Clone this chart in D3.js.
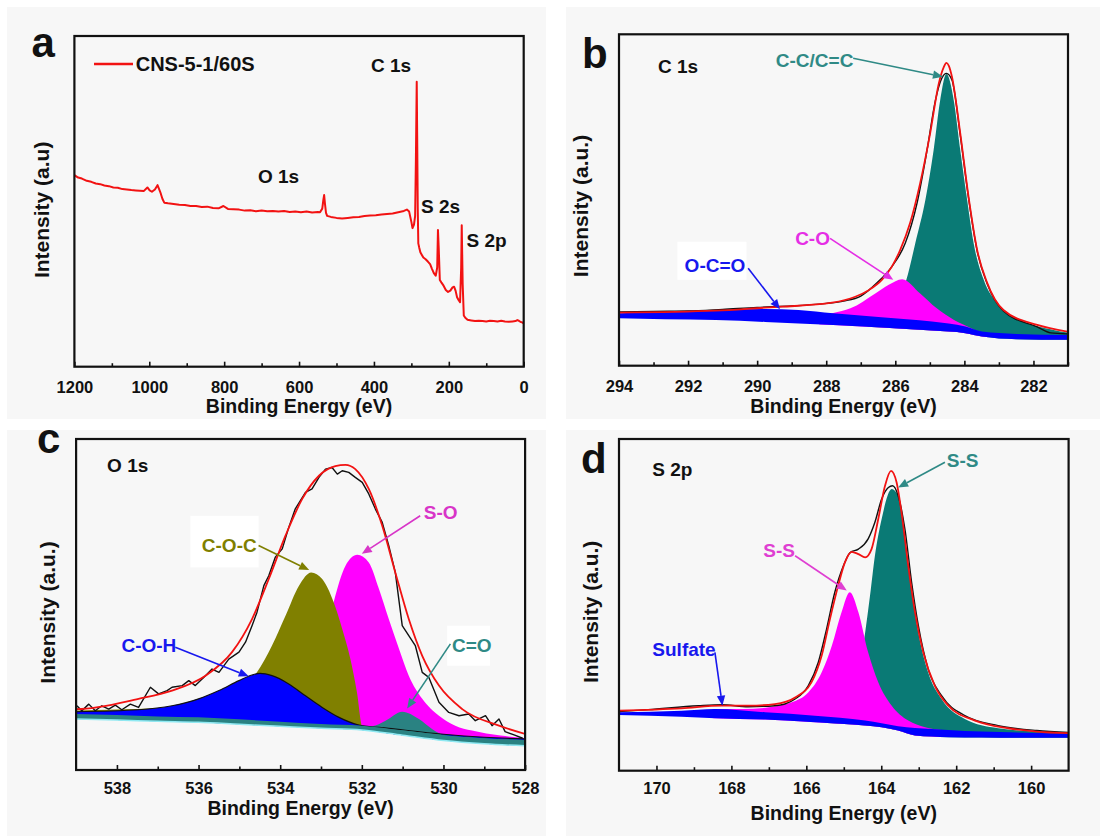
<!DOCTYPE html>
<html><head><meta charset="utf-8">
<script src="https://cdn.jsdelivr.net/npm/d3@7"></script>
<style>
body{margin:0;background:#ffffff}
text{font-family:"Liberation Sans",Arial,sans-serif;font-weight:bold}
</style>
</head><body>
<svg id="chart" width="1105" height="838"></svg>
<script>
// ---------------- DATA ----------------
// Panel a: survey spectrum (binding energy eV, intensity a.u. 0-100)
const surveyE = [1200,1190,1180,1167,1155,1143,1131,1120,1108,1096,1084,1072,1060,1048,1036,1025,1015,1005,999,993,985,978,974,970,965,960,950,935,920,905,890,875,860,845,830,815,802,790,775,760,745,730,715,700,685,670,655,640,625,610,595,580,565,550,544,538,535,533,531,528,525,515,500,485,470,455,440,425,410,395,380,365,350,335,320,312,306,300,297,293,290,288,285.7,284.5,283,281.5,279,276,272,268,262,256,250,245,240,235,231,229,227,224,220,214,208,202,196,190,186,182,178,174,170,167,165.5,163,160,156,150,140,130,120,110,100,90,80,70,60,50,40,30,22,17,13,8,4,0];
const surveyI = [57.9,57.2,56.9,56.2,55.9,55.4,55.2,54.8,54.6,54.2,54.1,53.7,53.6,53.4,53.3,53.2,53.1,54.2,53.3,52.9,53.6,54.9,53.8,52.6,50.8,49.6,49.4,49.2,49.0,48.9,48.6,48.6,48.3,48.4,48.0,47.9,48.6,47.7,47.6,47.5,47.2,47.3,47.0,47.2,47.0,47.1,46.9,47.1,46.8,46.9,46.7,46.9,46.6,46.8,46.7,47.8,50.5,51.9,49.5,46.5,45.6,45.3,45.0,44.8,45.0,45.2,45.3,45.6,45.7,45.8,46.0,46.2,46.3,46.7,47.1,47.5,46.9,43.8,41.9,43.0,45.5,62.0,86.2,70.0,48.0,37.3,36.0,34.6,33.8,33.0,32.5,31.8,31.0,29.6,28.3,27.5,30.0,41.3,36.0,26.2,25.5,24.5,23.2,22.6,23.0,24.0,24.2,23.0,21.0,20.2,19.5,30.0,42.8,25.0,15.5,14.8,14.2,14.0,13.8,13.9,13.8,13.7,13.9,13.8,13.7,13.9,13.7,13.6,13.7,13.8,14.1,13.9,13.5,13.4,13.1];
const surveyLegend = "CNS-5-1/60S";
const surveyPeakNames = ["C 1s","O 1s","S 2s","S 2p"];
const surveyPeakPos = [[407.8,89.2],[709.6,55.5],[274.3,46.5],[152.8,36.3]];

// Panel b: C 1s
const c1sRawE = [294,293,292,291,290,289,288,287.5,287,286.53,286.1,285.71,285.37,285.08,284.84,284.65,284.52,284.36,284.12,283.88,283.63,283.34,282.87,281.89,281.5,281.02];
const c1sRawI = [16.2,16.4,16.5,17.0,17.6,18.0,18.8,19.5,21.0,25.0,29.9,37.0,49.1,65.1,80.0,86.8,88.2,86.2,69.6,50.6,34.6,24.7,16.5,11.7,9.9,9.6];
const c1sFitE = [294,291.2,289.77,289.28,287.83,287.16,286.77,286.39,286.1,285.86,285.57,285.28,284.99,284.74,284.6,284.52,284.45,284.36,284.12,283.88,283.63,283.34,282.87,281.89,281.02];
const c1sFitI = [16.0,16.6,17.5,17.8,19.0,20.8,22.8,25.9,29.9,34.9,43.1,55.1,70.2,85.2,90.0,91.4,90.5,87.2,70.2,51.0,34.9,25.0,16.8,12.3,10.3];
const c1sCCE = [286.8,286.3,285.9,285.68,285.42,285.13,284.89,284.7,284.52,284.31,284.12,283.92,283.73,283.44,283.05,282.38,281.42,281.02];
const c1sCCI = [13.2,15.3,19.8,25.9,37.0,50.0,65.1,80.2,88.0,80.2,65.1,50.0,36.9,25.9,18.8,13.8,10.8,10.0];
const c1sCOE = [288.2,287.8,287.3,286.58,286.19,285.8,285.28,284.8,284.3,283.8,283.6,283.3];
const c1sCOI = [15.4,15.9,17.3,21.8,24.4,26.1,21.8,17.3,13.8,11.3,10.3,9.7];
const c1sBandE = [294,292.67,291.2,289.77,288.8,287.8,286.4,284.94,283.97,283.49,282.5,281];
const c1sBandTop = [15.8,16.3,16.8,17.1,16.8,15.8,14.6,13.3,11.8,10.3,9.6,9.3];
const c1sBandBottom = [14.3,14.0,13.8,13.2,12.7,12.3,11.5,10.6,9.8,8.8,8.0,7.8];

// Panel c: O 1s
const o1sRawE = [538.98,538.86,538.69,538.53,538.37,538.2,538.04,537.88,537.67,537.47,537.18,536.98,536.77,536.65,536.4,536.24,536.08,535.83,535.67,535.5,535.26,535.01,534.85,534.69,534.57,534.4,534.28,534.12,533.95,533.79,533.63,533.38,533.22,533.05,532.89,532.73,532.6,532.48,532.32,532.16,531.99,531.83,531.67,531.5,531.34,531.18,531.01,530.93,530.69,530.52,530.36,530.11,529.87,529.62,529.38,529.22,528.97,528.81,528.64,528.49,528.27,528.06];
const o1sRawI = [19.4,17.9,19.9,17.9,19.4,18.4,19.6,18.2,19.9,18.9,25.0,23.0,24.0,25.0,25.5,27.0,25.5,28.5,30.5,29.5,33.5,35.6,38.6,43.6,47.6,55.7,58.7,64.3,66.8,73.3,78.9,83.9,84.9,88.4,90.9,91.4,89.4,90.4,89.9,88.4,86.9,83.4,78.9,74.8,67.8,59.7,43.6,42.1,37.6,29.5,28.0,20.5,17.4,16.4,16.9,14.9,16.4,13.4,15.4,11.6,10.6,9.6];
const o1sFitE = [539,538.98,537.47,536.65,535.83,535.18,534.69,534.28,533.87,533.46,533.05,532.65,532.4,532.16,531.83,531.5,531.18,530.85,530.52,530.11,529.54,528.64,528.0];
const o1sFitI = [18.8,18.4,21.5,24.0,28.5,35.6,45.6,57.7,70.8,81.9,88.9,91.8,92.2,90.9,84.9,73.8,59.7,45.6,34.5,25.5,18.4,13.4,10.9];
const o1sSOE = [533.4,533.0,532.69,532.4,532.11,531.83,531.58,531.34,531.09,530.85,530.52,530.11,529.71,529.3,528.6,528.0];
const o1sSOI = [21.1,33.2,50.7,61.7,65.0,62.7,54.7,45.6,36.6,28.5,21.5,16.4,13.4,11.9,10.4,9.7];
const o1sCOCE = [539,537,536,535.5,535.0,534.8,534.57,534.2,533.87,533.54,533.24,532.97,532.69,532.48,532.28,532.12,531.99,531.7];
const o1sCOCI = [18.0,18.7,19.9,21.1,24.2,26.3,29.5,37.6,46.6,55.7,59.7,57.7,50.7,42.6,33.5,23.5,13.2,12.1];
const o1sCOHE = [539,537.47,536.65,536.0,535.5,535.01,534.69,534.49,534.2,533.79,533.38,532.97,532.56,532.07,531.34,530,529,528];
const o1sCOHI = [17.6,18.2,19.4,21.5,24.0,27.0,28.7,29.2,28.5,26.0,22.4,18.9,15.9,13.6,12.6,10.8,9.9,9.4];
const o1sCdOE = [532.3,531.75,531.42,531.01,530.6,530.28,529.95,529.3,528.5,528.0];
const o1sCdOI = [12.8,13.2,14.9,17.6,15.4,12.4,10.4,9.8,9.2,9.1];
const o1sBandE = [539,538,537,536,535,534,533,532,531,530,529,528];
const o1sBandTop = [16.9,16.6,16.2,15.9,15.3,14.6,13.9,13.4,12.0,10.5,9.6,9.1];
const o1sBandBottom = [15.4,15.1,14.7,14.4,13.8,13.2,12.6,12.1,10.5,8.9,7.9,7.3];

// Panel d: S 2p
const s2pRawE = [171,170.22,168.88,168.26,167.55,166.84,166.57,166.3,165.95,165.68,165.46,165.24,165.01,164.83,164.61,164.35,164.17,163.99,163.81,163.7,163.55,163.37,163.19,163.01,162.75,162.39,161.77,160.88,159.85,159];
const s2pRawI = [17.8,18.4,19.6,19.9,19.3,19.6,20.1,21.6,25.6,32.7,42.7,53.8,61.8,65.8,66.8,69.9,74.9,81.9,85.4,85.9,82.9,72.9,56.8,43.7,30.7,22.6,16.6,13.6,12.1,11.5];
const s2pFitE = [171,169.33,168.26,167.55,166.84,166.3,165.86,165.59,165.37,165.15,164.97,164.79,164.61,164.43,164.26,164.08,163.9,163.74,163.59,163.46,163.28,163.1,162.88,162.57,162.21,161.5,160.61,159.85,159];
const s2pFitI = [18.1,18.8,19.6,19.6,20.1,22.1,26.7,34.7,45.7,55.8,62.8,66.0,65.3,64.3,66.8,75.9,85.9,90.4,86.9,77.9,61.8,47.8,35.7,25.6,19.6,15.1,12.8,11.8,11.3];
const s2pSS1E = [165.5,165.0,164.8,164.6,164.43,164.3,164.17,163.99,163.72,163.55,163.37,163.19,163.01,162.75,162.39,161.77,160.88,159.85,159];
const s2pSS1I = [15.0,17.0,21.0,30.0,41.7,52.8,64.8,75.9,84.9,82.9,69.9,54.8,41.7,29.7,21.6,15.6,12.8,11.8,11.4];
const s2pSS2E = [168.5,167.7,167.0,166.39,165.95,165.59,165.32,165.06,164.84,164.61,164.35,164.08,163.72,163.28,162.83,162.4];
const s2pSS2I = [18.6,18.6,19.1,20.6,23.6,29.7,37.7,47.8,53.8,47.8,35.7,26.7,19.6,15.1,13.1,12.3];
const s2pBandE = [171,169.33,168.44,167.1,165.77,164.43,163.99,163.55,163.1,162.65,162.21,161.32,159.85,159];
const s2pBandTop = [17.6,18.1,18.6,17.6,16.6,15.1,14.3,13.4,12.9,12.6,12.3,11.8,11.4,11.2];
const s2pBandBottom = [16.8,16.3,15.8,15.4,14.6,13.6,13.1,12.1,10.6,10.3,10.1,10.0,9.9,9.9];

// Tick values
const ticksA = [1200,1000,800,600,400,200,0];
const minorA = [1100,900,700,500,300,100];
const ticksB = [294,292,290,288,286,284,282];
const minorB = [293,291,289,287,285,283,281];
const ticksC = [538,536,534,532,530,528];
const minorC = [537,535,533,531,529];
const ticksD = [170,168,166,164,162,160];
const minorD = [169,167,165,163,161];

// Annotations: [label, labelE, labelI, fromE, fromI, toE, toI, colour]
const annB = [["C-C/C=C",289.46,90.2,287.22,92.8,284.62,87.2,"#2f8a86"],
              ["C-O",288.9,36.4,287.89,38.4,286.06,25.9,"#e52ee5"],
              ["O-C=O",292.1,28.4,290.26,29.4,289.34,17.0,"#1818ee"]];
const annC = [["C-O-C",535.92,65.9,534.53,67.8,533.29,60.4,"#7f7f00"],
              ["S-O",530.48,75.8,530.57,76.8,532.0,65.3,"#d835c8"],
              ["C-O-H",537.89,35.6,536.57,37.1,534.77,28.3,"#1818ee"],
              ["C=O",529.79,35.6,529.83,38.1,530.89,18.6,"#2f8a86"]];
const annD = [["S-S",162.25,91.5,162.3,93.0,163.55,85.4,"#2f8a86"],
              ["S-S",167.15,64.3,166.3,64.8,164.92,54.3,"#df3fd2"],
              ["Sulfate",170.11,34.5,168.44,35.7,168.24,19.6,"#1818ee"]];
// white label boxes [E1, I1, E2, I2]
const boxB = [[292.31,37.4,290.31,25.9]];
const boxC = [[536.2,76.8,534.53,61.2],[529.91,43.6,528.86,31.5]];

// ---------------- DRAWING ----------------
const svg = d3.select("#chart");
const FONT = '"Liberation Sans", Arial, sans-serif';
const RED = "#f21212", TEAL = "#0a7a75", MAG = "#ff00ff", BLUE = "#0000ff", OLIVE = "#808000";

[[7,7,539,412],[566,7,534,412],[7,430,539,406],[566,430,534,406]].forEach(r=>{
  svg.append("rect").attr("x",r[0]).attr("y",r[1]).attr("width",r[2]).attr("height",r[3]).attr("fill","#f7f7f7");
});

const zip = (E,V) => E.map((e,i)=>[e,V[i]]).sort((a,b)=>b[0]-a[0]);

function panel(o){
  const g = svg.append("g");
  const x = d3.scaleLinear().domain(o.xdom).range([o.L,o.R]);
  const y = d3.scaleLinear().domain([0,100]).range([o.B,o.T]);
  g.append("clipPath").attr("id","clip"+o.id).append("rect")
    .attr("x",o.L).attr("y",o.T).attr("width",o.R-o.L).attr("height",o.B-o.T);
  const plot = g.append("g").attr("clip-path",`url(#clip${o.id})`);
  const major = d3.axisBottom(x).tickValues(o.major).tickSize(-5).tickPadding(o.pad).tickFormat(d3.format("d"));
  const minor = d3.axisBottom(x).tickValues(o.minor).tickSize(-3.5).tickFormat("");
  const ga = g.append("g").attr("transform",`translate(0,${o.B})`).call(major);
  const gm = g.append("g").attr("transform",`translate(0,${o.B})`).call(minor);
  [ga,gm].forEach(a=>{a.select(".domain").remove(); a.selectAll("line").attr("stroke","#111").attr("stroke-width",1.6);});
  ga.selectAll("text").attr("font-family",FONT).attr("font-weight","bold").attr("font-size",16.5).attr("fill","#111");
  g.append("text").attr("x",(o.L+o.R)/2).attr("y",o.B+o.xt).attr("text-anchor","middle")
    .attr("font-size",19.5).attr("fill","#111").text("Binding Energy (eV)");
  g.append("text").attr("transform",`translate(${o.yx},${(o.T+o.B)/2 + o.yoff}) rotate(-90)`)
    .attr("text-anchor","middle").attr("dominant-baseline","central").attr("font-size",21).attr("fill","#111").text(o.ytitle);
  g.append("text").attr("x",o.L+o.lx).attr("y",o.T+o.ly).attr("font-size",42).attr("fill","#111").text(o.id);
  return {g,x,y,plot,o};
}
function finishBox(p){
  const o=p.o;
  p.g.append("rect").attr("x",o.L).attr("y",o.T).attr("width",o.R-o.L).attr("height",o.B-o.T)
    .attr("fill","none").attr("stroke","#111").attr("stroke-width",2.2);
}
function lineGen(p,curve){ return d3.line().x(d=>p.x(d[0])).y(d=>p.y(d[1])).curve(curve||d3.curveMonotoneX); }
function bandClip(p,E,bottom){
  const id = "band"+p.o.id;
  p.g.append("clipPath").attr("id",id).append("path")
    .attr("d", d3.area().x(d=>p.x(d[0])).y0(p.o.T-5).y1(d=>p.y(d[1])).curve(d3.curveMonotoneX)(zip(E,bottom)));
  return p.plot.append("g").attr("clip-path",`url(#${id})`);
}
function comp(layer,p,E,V,fill){
  layer.append("path").attr("d", d3.area().x(d=>p.x(d[0])).y0(p.o.B).y1(d=>p.y(d[1])).curve(d3.curveMonotoneX)(zip(E,V)))
    .attr("fill",fill);
}
function band(p,E,top,bottom,fill){
  const data = E.map((e,i)=>[e,top[i],bottom[i]]).sort((a,b)=>b[0]-a[0]);
  p.plot.append("path").attr("d", d3.area().x(d=>p.x(d[0])).y0(d=>p.y(d[2])).y1(d=>p.y(d[1])).curve(d3.curveMonotoneX)(data))
    .attr("fill",fill);
}
function curve(p,E,V,color,w,c){
  p.plot.append("path").attr("d", lineGen(p,c)(zip(E,V))).attr("fill","none").attr("stroke",color).attr("stroke-width",w).attr("stroke-linejoin","round");
}
function label(p,text,e,v,color,size){
  p.g.append("text").attr("x",p.x(e)).attr("y",p.y(v)).attr("font-size",size||19).attr("fill",color).text(text);
}
function arrow(p,e1,v1,e2,v2,color){
  const x1=p.x(e1),y1=p.y(v1),x2=p.x(e2),y2=p.y(v2);
  const a=Math.atan2(y2-y1,x2-x1), L=10, W=4.2;
  const bx=x2-L*Math.cos(a), by=y2-L*Math.sin(a);
  p.g.append("line").attr("x1",x1).attr("y1",y1).attr("x2",bx).attr("y2",by).attr("stroke",color).attr("stroke-width",1.6);
  p.g.append("path").attr("d",`M${x2},${y2}L${bx+W*Math.sin(a)},${by-W*Math.cos(a)}L${bx-W*Math.sin(a)},${by+W*Math.cos(a)}Z`).attr("fill",color);
}
function annotate(p,list,boxes){
  (boxes||[]).forEach(b=>{
    p.g.append("rect").attr("x",p.x(b[0])).attr("y",p.y(b[1])).attr("width",p.x(b[2])-p.x(b[0])).attr("height",p.y(b[3])-p.y(b[1])).attr("fill","#ffffff");
  });
  list.forEach(a=>{ label(p,a[0],a[1],a[2],a[7]); arrow(p,a[3],a[4],a[5],a[6],a[7]); });
}

// ---- Panel a
const pa = panel({id:"a",L:74.4,R:523.7,T:36,B:366.7,xdom:[1200,0],major:ticksA,minor:minorA,pad:14.6,xt:46,yx:41,yoff:8.5,ytitle:"Intensity (a.u)",lx:-43,ly:21});
curve(pa,surveyE,surveyI,RED,2,d3.curveLinear);
pa.g.append("line").attr("x1",pa.x(1147.6)).attr("x2",pa.x(1043.5)).attr("y1",pa.y(91.5)).attr("y2",pa.y(91.5)).attr("stroke",RED).attr("stroke-width",2.5);
label(pa,surveyLegend,1036.3,89.5,"#111",20);
surveyPeakNames.forEach((n,i)=>label(pa,n,surveyPeakPos[i][0],surveyPeakPos[i][1],"#111",19));
finishBox(pa);

// ---- Panel b
const pb = panel({id:"b",L:619,R:1068,T:34.3,B:365.7,xdom:[294,281],major:ticksB,minor:minorB,pad:14.6,xt:47,yx:580,yoff:6,ytitle:"Intensity (a.u.)",lx:-37,ly:34});
{
  const layer = bandClip(pb,c1sBandE,c1sBandBottom);
  comp(layer,pb,c1sCCE,c1sCCI,TEAL);
  comp(layer,pb,c1sCOE,c1sCOI,MAG);
  band(pb,c1sBandE,c1sBandTop,c1sBandBottom,BLUE);
  curve(pb,c1sRawE,c1sRawI,"#111",1.4);
  curve(pb,c1sFitE,c1sFitI,RED,1.8);
  label(pb,"C 1s",292.87,88.2,"#111",19);
  annotate(pb,annB,boxB);
}
finishBox(pb);

// ---- Panel c
const pc = panel({id:"c",L:76.1,R:525.1,T:439,B:770,xdom:[539,528],major:ticksC,minor:minorC,pad:12,xt:45,yx:47,yoff:8,ytitle:"Intensity (a.u.)",lx:-39,ly:14});
{
  const layer = bandClip(pc,o1sBandE,o1sBandBottom);
  comp(layer,pc,o1sSOE,o1sSOI,MAG);
  comp(layer,pc,o1sCOCE,o1sCOCI,OLIVE);
  comp(layer,pc,o1sCOHE,o1sCOHI,BLUE);
  curve(pc,o1sCOHE,o1sCOHI,"#111",1.2);
  comp(layer,pc,o1sCdOE,o1sCdOI,"#2a8282");
  band(pc,o1sBandE,o1sBandTop,o1sBandBottom,"#2a8282");
  curve(pc,o1sBandE,o1sBandBottom,"#8fe9f2",1.5);
  curve(pc,o1sRawE,o1sRawI,"#111",1.4,d3.curveLinear);
  curve(pc,o1sFitE,o1sFitI,RED,1.8);
  label(pc,"O 1s",538.24,89.9,"#111",19);
  annotate(pc,annC,boxC);
}
finishBox(pc);

// ---- Panel d
const pd = panel({id:"d",L:619,R:1068.6,T:439,B:770.7,xdom:[171,159],major:ticksD,minor:minorD,pad:12,xt:49,yx:590.7,yoff:7,ytitle:"Intensity (a.u.)",lx:-38,ly:34});
{
  const layer = bandClip(pd,s2pBandE,s2pBandBottom);
  comp(layer,pd,s2pSS1E,s2pSS1I,TEAL);
  comp(layer,pd,s2pSS2E,s2pSS2I,MAG);
  band(pd,s2pBandE,s2pBandTop,s2pBandBottom,BLUE);
  curve(pd,s2pRawE,s2pRawI,"#111",1.4);
  curve(pd,s2pFitE,s2pFitI,RED,1.8);
  label(pd,"S 2p",170.11,88.9,"#111",19);
  annotate(pd,annD);
}
finishBox(pd);
</script>
</body></html>
